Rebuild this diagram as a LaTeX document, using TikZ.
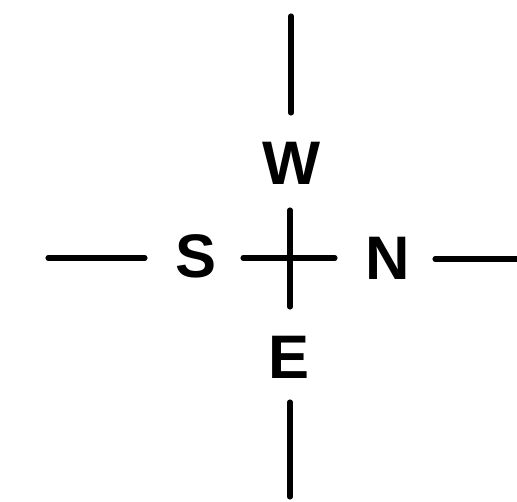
\documentclass[tikz,border=0pt]{standalone}
\usepackage{fontspec}
\setmainfont{Liberation Sans}
\usetikzlibrary{positioning}

\begin{document}
\begin{tikzpicture}[x=0.02cm, y=-0.02cm,
        pto/.style={font=\fontsize{35}{40}\selectfont\bfseries, inner sep=0pt},
        raya/.style={line width=2.9pt, line cap=round}]
    \useasboundingbox (0,0) rectangle (517,502);
    % letras
    \node[pto] (w) at (292,163) {W};
    \node[pto] (s) at (196,256) {S};
    \node[pto] (n) at (388,258) {N};
    \node[pto] (e) at (289,357) {E};
    % extremos de las rayas
    \coordinate (arriba)  at (291,16);
    \coordinate (abajo)   at (290,497);
    \coordinate (izq)     at (48,258);
    \coordinate (der)     at (519,259);
    \coordinate (centro)  at (290,258);
    % rayas exteriores
    \draw[raya] (arriba) -- (arriba |- 0,113);
    \draw[raya] (abajo |- 0,402) -- (abajo);
    \draw[raya] (izq) -- (145,258);
    \draw[raya] (435,259) -- (der);
    % cruz central
    \draw[raya] ([yshift=48*0.02cm]centro) -- ([yshift=-49*0.02cm]centro);
    \draw[raya] ([xshift=-47*0.02cm]centro) -- ([xshift=45*0.02cm]centro);
\end{tikzpicture}
\end{document}
